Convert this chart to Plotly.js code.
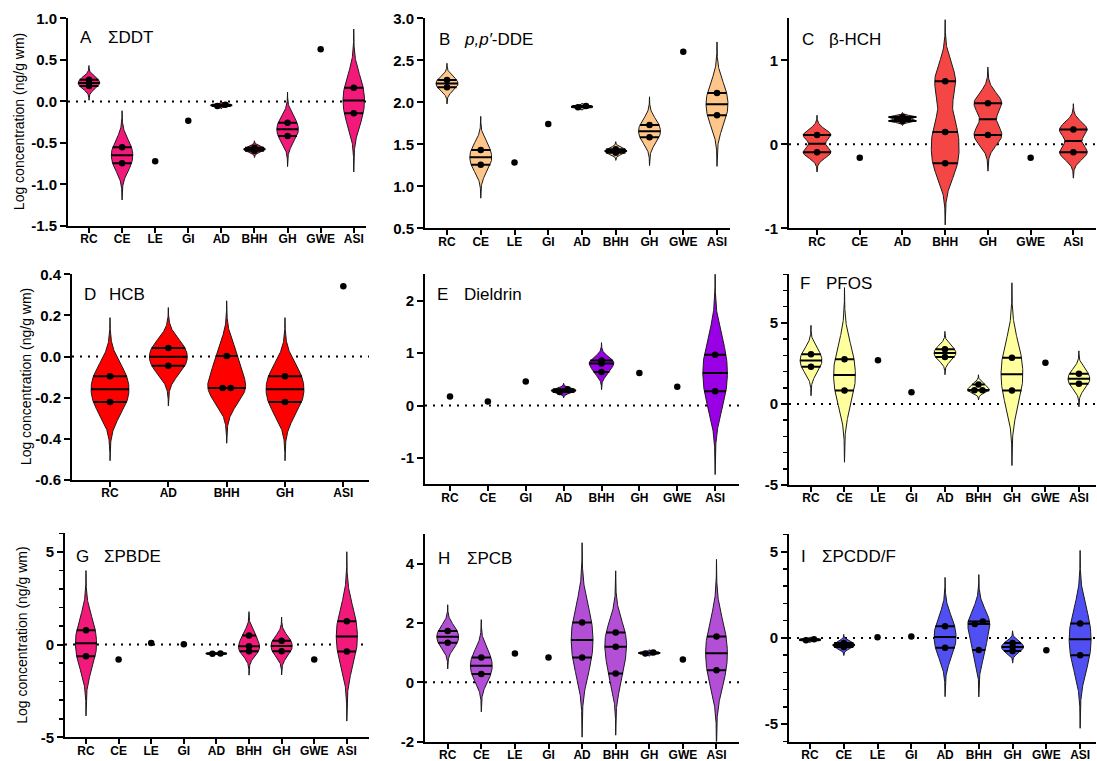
<!DOCTYPE html>
<html><head><meta charset="utf-8">
<script src="https://cdn.plot.ly/plotly-3.0.1.min.js"></script>
<style>html,body{margin:0;padding:0;background:#fff}</style>
</head><body><div id="chart" style="width:1097px;height:761px"></div>
<script>
// ---------------- DATA ----------------
const catsA = ['RC','CE','LE','GI','AD','BHH','GH','GWE','ASI'];
const valsA = [[0.26,0.185],[-0.553,-0.746],[-0.72],[-0.232],[-0.04,-0.055],[-0.557,-0.593],[-0.256,-0.417],[0.627],[0.165,-0.144]];
const yticksA = [-1.5,-1.0,-0.5,0.0,0.5,1.0];

const catsB = ['RC','CE','LE','GI','AD','BHH','GH','GWE','ASI'];
const valsB = [[2.266,2.179],[1.433,1.258],[1.282],[1.742],[1.94,1.955],[1.44,1.40],[1.73,1.583],[2.603],[2.111,1.845]];
const yticksB = [0.5,1.0,1.5,2.0,2.5,3.0];

const catsC = ['RC','CE','AD','BHH','GH','GWE','ASI'];
const valsC = [[0.111,-0.095],[-0.159],[0.325,0.278],[0.75,0.147,-0.226],[0.488,0.111],[-0.159],[0.175,-0.095]];
const yticksC = [-1,0,1];

const catsD = ['RC','AD','BHH','GH','ASI'];
const valsD = [[-0.096,-0.221],[0.042,-0.044],[0.003,-0.153,-0.153],[-0.096,-0.221],[0.342]];
const yticksD = [-0.6,-0.4,-0.2,0.0,0.2,0.4];

const catsE = ['RC','CE','GI','AD','BHH','GH','GWE','ASI'];
const valsE = [[0.172],[0.077],[0.46],[0.26,0.31],[0.86,0.80,0.64],[0.62],[0.357],[0.97,0.274]];
const yticksE = [-1,0,1,2];

const catsF = ['RC','CE','LE','GI','AD','BHH','GH','GWE','ASI'];
const valsF = [[3.07,2.29],[2.76,0.825],[2.7],[0.72],[3.38,2.9],[1.2,0.85,0.85],[2.85,0.825],[2.54],[1.86,1.24]];
const yticksF = [-5,0,5];

const catsG = ['RC','CE','LE','GI','AD','BHH','GH','GWE','ASI'];
const valsG = [[0.776,-0.632],[-0.81],[0.09],[0.018],[-0.49,-0.48],[0.487,-0.09,-0.36],[0.2,-0.36],[-0.81],[1.26,-0.38]];
const yticksG = [-5,0,5];

const catsH = ['RC','CE','LE','GI','AD','BHH','GH','GWE','ASI'];
const valsH = [[1.73,1.34],[0.84,0.28],[0.97],[0.84],[2.02,0.84],[1.68,1.2,0.3],[1.01,0.97],[0.77],[1.55,0.41]];
const yticksH = [-2,0,2,4];

const catsI = ['RC','CE','LE','GI','AD','BHH','GH','GWE','ASI'];
const valsI = [[-0.08,-0.14],[-0.3,-0.52],[0.04],[0.08],[0.67,-0.57],[0.95,0.8,-0.7],[-0.29,-0.53,-0.76],[-0.72],[0.84,-1.01]];
const yticksI = [-5,0,5];

const yTitle = 'Log concentration (ng/g wm)';

// ---------------- LAYOUT CONFIG ----------------
const W = 1097, H = 761;
const FONT = 'Liberation Sans, Arial, Helvetica, sans-serif';
const panels = [
 {letter:'A', name:'ΣDDT', cats:catsA, vals:valsA, yt:yticksA, dec:1, color:'#F2197A', box:[68,366,18.3,226], xr:[-0.634,8.37], yr:[-1.5,1.0], minor:false, smooth:1, lab:[78,106,38], ytitle:19},
 {letter:'B', name:'<i>p,p′</i>-DDE', cats:catsB, vals:valsB, yt:yticksB, dec:1, color:'#FFC68A', box:[425,730,18.3,228.3], xr:[-0.652,8.385], yr:[0.5,3.0], minor:false, smooth:1, lab:[437,462,40]},
 {letter:'C', name:'β-HCH', cats:catsC, vals:valsC, yt:yticksC, dec:0, color:'#F54646', box:[789,1096,18.3,228.3], xr:[-0.656,6.53], yr:[-1,1.5], minor:false, smooth:0.5, lab:[800,827,40]},
 {letter:'D', name:'HCB', cats:catsD, vals:valsD, yt:yticksD, dec:1, color:'#FF0000', box:[72,369,274.3,480], xr:[-0.652,4.44], yr:[-0.6,0.4], minor:false, smooth:1, lab:[82,107,295], ytitle:26},
 {letter:'E', name:'Dieldrin', cats:catsE, vals:valsE, yt:yticksE, dec:0, color:'#9A00E6', box:[425,739,274.3,484.3], xr:[-0.66,7.63], yr:[-1.5,2.5], minor:false, smooth:1, lab:[435,462,294]},
 {letter:'F', name:'PFOS', cats:catsF, vals:valsF, yt:yticksF, dec:0, color:'#FFFF9E', box:[789,1096,274.3,485], xr:[-0.657,8.51], yr:[-5,8], minor:true, smooth:1, lab:[798,824,283]},
 {letter:'G', name:'ΣPBDE', cats:catsG, vals:valsG, yt:yticksG, dec:0, color:'#F2197A', box:[65,369,533.3,737.3], xr:[-0.644,8.68], yr:[-5,6], minor:true, smooth:1, lab:[74,102,556], ytitle:22.5},
 {letter:'H', name:'ΣPCB', cats:catsH, vals:valsH, yt:yticksH, dec:0, color:'#B24FD6', box:[425,739,534.3,741.5], xr:[-0.676,8.67], yr:[-2,5], minor:false, smooth:1, lab:[436,465,558]},
 {letter:'I', name:'ΣPCDD/F', cats:catsI, vals:valsI, yt:yticksI, dec:0, color:'#4F4FF2', box:[789,1096,534.3,741.5], xr:[-0.622,8.47], yr:[-6,6], minor:true, smooth:1, lab:[799,820,556]}
];

const HALF = 0.325;   // half of violin max width, in category units

function sdev(a){ const m=a.reduce((s,v)=>s+v,0)/a.length; return Math.sqrt(a.reduce((s,v)=>s+(v-m)*(v-m),0)/(a.length-1)); }
function dens(a,h,y){ let s=0; for(const v of a){ const z=(y-v)/h; s+=Math.exp(-0.5*z*z);} return s; }
function quant(sorted,p){ const n=sorted.length; const pos=(n+1)*p; if(pos<=1) return sorted[0]; if(pos>=n) return sorted[n-1]; const lo=Math.floor(pos); const f=pos-lo; return sorted[lo-1]+f*(sorted[lo]-sorted[lo-1]); }

const traces = [];
const layout = {
  width:W, height:H, margin:{l:0,r:0,t:0,b:0}, paper_bgcolor:'#fff', plot_bgcolor:'rgba(0,0,0,0)',
  showlegend:false, hovermode:false, font:{family:FONT, color:'#000'}, annotations:[], shapes:[]
};

panels.forEach((p,k)=>{
  const xid = k===0 ? 'x' : 'x'+(k+1);
  const yid = k===0 ? 'y' : 'y'+(k+1);
  const [L,R,T,B] = p.box;
  const pxPerY = (B-T)/(p.yr[1]-p.yr[0]);
  const pxPerX = (R-L)/(p.xr[1]-p.xr[0]);

  const lx=[], ly=[], dx=[], dy=[];
  p.vals.forEach((vals,i)=>{
    const s = vals.slice().sort((a,b)=>a-b);
    const n = s.length;
    if(n>=2){
      const h = p.smooth*1.06*sdev(s)*Math.pow(n,-0.2);
      const lo = s[0]-3.5*h, hi = s[n-1]+3.5*h;
      const N = 160, ys=[], ds=[];
      for(let j=0;j<=N;j++){ const y=lo+(hi-lo)*j/N; ys.push(y); ds.push(dens(s,h,y)); }
      let dmax = Math.max(...ds, ...s.map(v=>dens(s,h,v)));
      const xs=[], yy=[];
      for(let j=0;j<=N;j++){ xs.push(i+HALF*ds[j]/dmax); yy.push(ys[j]); }
      for(let j=N;j>=0;j--){ xs.push(i-HALF*ds[j]/dmax); yy.push(ys[j]); }
      traces.push({type:'scatter', mode:'lines', x:xs, y:yy, xaxis:xid, yaxis:yid, fill:'toself',
        fillcolor:p.color, line:{color:'#1a1a1a', width:1}, hoverinfo:'skip'});
      [0.25,0.5,0.75].forEach(q=>{
        const yq = quant(s,q); const w = HALF*dens(s,h,yq)/dmax;
        lx.push(i-w, i+w, null); ly.push(yq, yq, null);
      });
    }
    // dots, spread when overlapping
    const clusters=[]; let cur=[s[0]];
    for(let j=1;j<n;j++){ if((s[j]-cur[cur.length-1])*pxPerY<2.8) cur.push(s[j]); else { clusters.push(cur); cur=[s[j]]; } }
    clusters.push(cur);
    clusters.forEach(c=>{ const m=c.length; c.forEach((v,j)=>{ dx.push(i+((j-(m-1)/2)*8)/pxPerX); dy.push(v); }); });
  });
  if(lx.length) traces.push({type:'scatter', mode:'lines', x:lx, y:ly, xaxis:xid, yaxis:yid, line:{color:'#000', width:2}, hoverinfo:'skip'});
  traces.push({type:'scatter', mode:'markers', x:dx, y:dy, xaxis:xid, yaxis:yid, marker:{color:'#000', size:6.5}, hoverinfo:'skip'});

  const xk = k===0 ? 'xaxis' : 'xaxis'+(k+1);
  const yk = k===0 ? 'yaxis' : 'yaxis'+(k+1);
  layout[xk] = {domain:[L/W, R/W], range:p.xr, anchor:yid, showline:true, linecolor:'#000', linewidth:2,
    ticks:'outside', ticklen:5, tickwidth:2, tickcolor:'#000', tickmode:'array', ticklabelstandoff:-4,
    tickvals:p.cats.map((c,i)=>i), ticktext:p.cats, tickfont:{family:FONT, size:12, weight:'bold', color:'#000'},
    showgrid:false, zeroline:false, fixedrange:true};
  const ya = {domain:[1-B/H, 1-T/H], range:p.yr, anchor:xid, showline:true, linecolor:'#000', linewidth:2,
    ticks:'outside', ticklen:6, tickwidth:2, tickcolor:'#000', tickmode:'array',
    tickvals:p.yt, ticktext:p.yt.map(v=>v.toFixed(p.dec)), tickfont:{family:FONT, size:15, weight:'bold', color:'#000'},
    showgrid:false, zeroline:false, fixedrange:true};
  if(p.minor) ya.minor = {tickmode:'linear', tick0:0, dtick:1, ticks:'outside', ticklen:4, tickwidth:1.5, tickcolor:'#000', showgrid:false};
  layout[yk] = ya;

  layout.shapes.push({type:'line', layer:'below', xref:xid+' domain', x0:0, x1:1, yref:yid, y0:0, y1:0,
    line:{color:'#000', width:2, dash:'2px,6px'}});

  layout.annotations.push({xref:'paper', yref:'paper', x:p.lab[0]/W, y:1-p.lab[2]/H, xanchor:'left', yanchor:'middle',
    text:p.letter, showarrow:false, font:{family:FONT, size:17, color:'#000'}});
  layout.annotations.push({xref:'paper', yref:'paper', x:p.lab[1]/W, y:1-p.lab[2]/H, xanchor:'left', yanchor:'middle',
    text:p.name, showarrow:false, font:{family:FONT, size:17, color:'#000'}});
  if(p.ytitle){
    layout.annotations.push({xref:'paper', yref:'paper', x:p.ytitle/W, y:1-((T+B)/2)/H, xanchor:'center', yanchor:'middle',
      text:yTitle, textangle:-90, showarrow:false, font:{family:FONT, size:14, color:'#000'}});
  }
});

Plotly.newPlot('chart', traces, layout, {staticPlot:true, displayModeBar:false});
</script>
</body></html>
